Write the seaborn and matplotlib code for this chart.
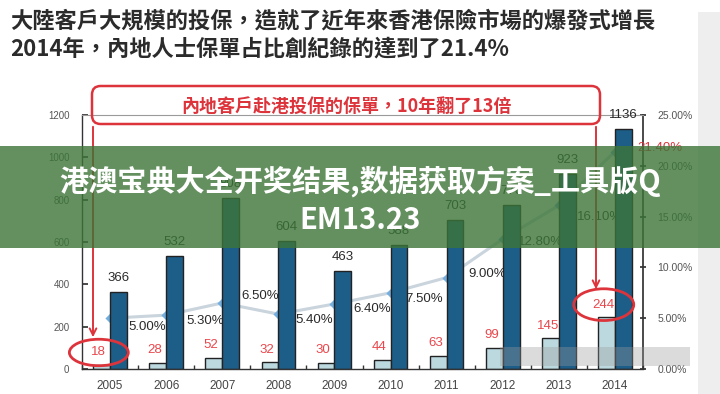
import matplotlib
matplotlib.use('Agg')
import matplotlib.pyplot as plt
from matplotlib.patches import Ellipse, FancyBboxPatch, Rectangle
from matplotlib.ticker import FuncFormatter
import numpy as np
import pandas as pd
import seaborn as sns

# data
years = ['2005', '2006', '2007', '2008', '2009', '2010', '2011', '2012', '2013', '2014']
mainland = [18, 28, 52, 32, 30, 44, 63, 99, 145, 244]
total = [366, 532, 808, 604, 463, 588, 703, 776, 923, 1136]
share = [5.00, 5.30, 6.50, 5.40, 6.40, 7.50, 9.00, 12.80, 16.10, 21.40]

# label nudges (points) for the percentage labels
pct_dx = [27, 28, 27, 26, 27, 24, 29, 27, 29, 32]
pct_dy = [-6.5, -4.3, 5, -4.3, -3.6, -4.3, 2.9, -2.2, -8.6, 2.9]

df = pd.DataFrame({'年份': years * 2,
                   '保單': mainland + total,
                   '系列': ['內地'] * 10 + ['總數'] * 10})
dfp = pd.DataFrame({'年份': years, '佔比': share})

sns.set_theme(style='white')
plt.rcParams['font.family'] = ['Liberation Sans', 'Noto Sans CJK TC', 'DejaVu Sans']

red = '#dd343c'
W, H = 720, 394

fig = plt.figure(figsize=(7.2, 3.94), dpi=100)
fig.patch.set_facecolor('white')
ax = fig.add_axes([82 / W, 1 - 369 / H, (643 - 82) / W, (369 - 115) / H])
ax2 = ax.twinx()

sns.pointplot(data=dfp, x='年份', y='佔比', ax=ax2, color='#c9d4dd',
              markers='D', markersize=3.5, linewidth=2.2, errorbar=None)
for ln in ax2.lines:
    ln.set_markerfacecolor('#74aede')
    ln.set_markeredgecolor('#74aede')

sns.barplot(data=df, x='年份', y='保單', hue='系列', palette=['#bcd9e0', '#1d5e89'],
            width=0.6, edgecolor='#222222', linewidth=1, saturation=1,
            legend=False, ax=ax)
for b in ax.containers[1]:
    b.set_zorder(2)

ax.set_zorder(ax2.get_zorder() + 1)
ax.patch.set_visible(False)

# value labels
for i, v in enumerate(mainland):
    ax.text(i - 0.2, v + 60, str(v), color='#e8474c', ha='center', va='center',
            fontsize=9.5, zorder=1.5)
for i, v in enumerate(total):
    ax.text(i + 0.15, v + 66, str(v), color='#2a2a2a', ha='center', va='center',
            fontsize=9.5, zorder=3, clip_on=False)
for i, p in enumerate(share):
    ax2.annotate(f'{p:.2f}%', (i, p), xytext=(pct_dx[i], pct_dy[i]),
                 textcoords='offset points', ha='center', va='center', fontsize=9.5,
                 color=red if i == len(share) - 1 else '#2a2a2a')

ax.set_xlim(-0.48, 9.5)
ax.set_ylim(0, 1200)
ax2.set_ylim(0, 25)
ax.set_xlabel('')
ax.set_ylabel('')
ax2.set_ylabel('')

ax.set_xticks(range(len(years)))
ax.set_xticklabels(years)
ax.set_xticks(np.arange(-0.5, len(years), 1), minor=True)
ax.tick_params(axis='x', which='major', length=0, pad=8, labelsize=8.5, labelcolor='#444444')
ax.tick_params(axis='x', which='minor', bottom=True, direction='in', length=3, color='#333333')
ax.set_yticks(range(0, 1201, 200))
ax.tick_params(axis='y', left=True, direction='in', length=4, pad=9, labelsize=7,
               labelcolor='#555555', color='#333333')
ax2.set_yticks(range(0, 26, 5))
ax2.yaxis.set_major_formatter(FuncFormatter(lambda v, _: f'{v:.2f}%'))
ax2.tick_params(axis='y', right=True, direction='inout', length=5, pad=8, labelsize=7.5,
                labelcolor='#555555', color='#333333')

for s in ['left', 'bottom']:
    ax.spines[s].set_color('#333333')
    ax.spines[s].set_linewidth(1)
ax.spines['right'].set_visible(False)
ax.spines['top'].set_color('#9a9a9a')
ax.spines['top'].set_linewidth(0.8)
for s in ['left', 'bottom', 'top']:
    ax2.spines[s].set_visible(False)
ax2.spines['right'].set_color('#333333')

# red highlight ellipses round the first and last mainland labels
ax.add_patch(Ellipse((-0.2, 78), 1.05, 125, fill=False, ec=red, lw=2, zorder=4, clip_on=False))
ax.add_patch(Ellipse((8.8, 304), 1.07, 150, fill=False, ec=red, lw=2, zorder=4, clip_on=False))

# red call-out box and arrows
fig.add_artist(FancyBboxPatch((92 / W, 1 - 124 / H), 508 / W, 38 / H,
                              boxstyle='round,pad=0,rounding_size=0.012',
                              mutation_aspect=W / H, transform=fig.transFigure,
                              fc='none', ec=red, lw=1.8, zorder=5))
fig.text(346 / W, 1 - 106 / H, '內地客戶赴港投保的保單，10年翻了13倍', color=red,
         fontsize=13, fontweight='bold', ha='center', va='center',
         family=['Noto Sans CJK TC', 'DejaVu Sans'], zorder=5)
ax.annotate('', xy=(93 / W, 1 - 340 / H), xytext=(93 / W, 1 - 124 / H),
            xycoords='figure fraction', textcoords='figure fraction',
            arrowprops=dict(arrowstyle='->', color=red, lw=1.4))
ax.annotate('', xy=(596 / W, 1 - 292 / H), xytext=(596 / W, 1 - 124 / H),
            xycoords='figure fraction', textcoords='figure fraction',
            arrowprops=dict(arrowstyle='->', color=red, lw=1.4))

# title
fig.text(10 / W, 1 - 21 / H, '大陸客戶大規模的投保，造就了近年來香港保險市場的爆發式增長',
         fontsize=16, fontweight='bold', color='#2b2b2b', va='center',
         family=['Noto Sans CJK TC', 'DejaVu Sans'])
fig.text(10 / W, 1 - 49 / H, '2014年，內地人士保單占比創紀錄的達到了21.4%',
         fontsize=16, fontweight='bold', color='#2b2b2b', va='center',
         family=['Noto Sans CJK TC', 'DejaVu Sans'])

# grey strip at right edge and blurred smudge at bottom
fig.add_artist(Rectangle((698 / W, 0), 22 / W, 1 - 12 / H, transform=fig.transFigure,
                         fc='#eeeeee', ec='none', zorder=-1))
fig.add_artist(Rectangle((500 / W, 1 - 366 / H), 190 / W, 19 / H, transform=fig.transFigure,
                         fc='#9a9a9a', ec='none', alpha=0.35, zorder=9))

# green overlay banner
fig.add_artist(Rectangle((0, 1 - 248 / H), 1, 102 / H, transform=fig.transFigure,
                         fc=(0.24, 0.46, 0.22), ec='none', alpha=0.8, zorder=10))
fig.text(0.5, 1 - 181 / H, '港澳宝典大全开奖结果,数据获取方案_工具版Q', color='white',
         fontsize=21, fontweight='bold', ha='center', va='center',
         family=['Noto Sans CJK SC', 'DejaVu Sans'], zorder=11)
fig.text(0.5, 1 - 220 / H, 'EM13.23', color='white',
         fontsize=21, fontweight='bold', ha='center', va='center',
         family=['Noto Sans CJK SC', 'DejaVu Sans'], zorder=11)

fig.savefig('out.png', dpi=100)
